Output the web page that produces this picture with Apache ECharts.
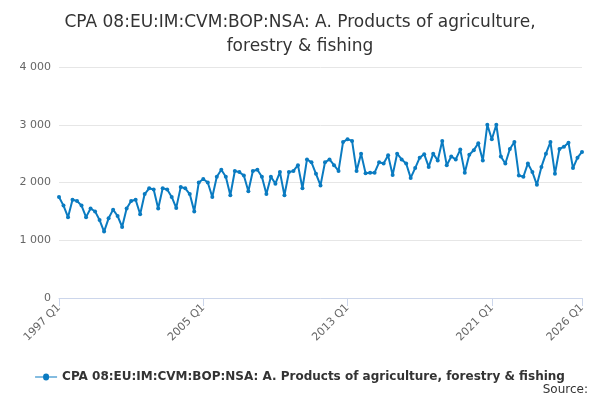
<!doctype html>
<html lang="en">
<head>
	<meta charset="UTF-8">
	<title>CPA 08 chart</title>
	<script src="https://cdn.jsdelivr.net/npm/echarts@6/dist/echarts.min.js"></script>
	<style>
		html, body { margin: 0; padding: 0; width: 100%; height: 100%; }
		#main { width: 600px; height: 400px; }
	</style>
</head>
<body>
	<div id="main"></div>
	<script type="text/javascript">
		var seriesName = 'CPA 08:EU:IM:CVM:BOP:NSA: A. Products of agriculture, forestry & fishing';
		var values = [
			1750, 1600, 1400, 1700, 1680, 1600, 1400, 1550, 1500, 1350, 1150, 1380,
			1530, 1420, 1230, 1550, 1680, 1700, 1450, 1800, 1900, 1880, 1550, 1900,
			1880, 1750, 1560, 1920, 1900, 1800, 1500, 2000, 2060, 2000, 1750, 2100,
			2220, 2100, 1780, 2200, 2180, 2120, 1850, 2200, 2220, 2100, 1800, 2100,
			1980, 2180, 1780, 2180, 2200, 2300, 1900, 2400, 2350, 2150, 1950, 2350,
			2400, 2300, 2200, 2700, 2750, 2720, 2200, 2500, 2160, 2170, 2170, 2350,
			2330, 2470, 2130, 2500, 2400, 2330, 2080, 2250, 2430, 2490, 2270, 2500,
			2380, 2720, 2300, 2450, 2400, 2570, 2170, 2480, 2560, 2680, 2380, 3000,
			2750, 3000, 2450, 2330, 2580, 2700, 2120, 2100, 2330, 2180, 1960, 2270,
			2500, 2700, 2150, 2580, 2620, 2690, 2250, 2430, 2530
		];
		var categories = [];
		for (var i = 0; i < values.length; i++) {
			categories.push((1997 + Math.floor(i / 4)) + ' Q' + (i % 4 + 1));
		}
		var last = values.length - 1;
		function showTick(idx) { return idx % 32 === 0 || idx === last; }

		var myChart = echarts.init(document.getElementById('main'));
		var option = {
			animation: false,
			title: {
				text: 'CPA 08:EU:IM:CVM:BOP:NSA: A. Products of agriculture,\nforestry & fishing',
				left: 'center',
				top: 6,
				textStyle: { fontFamily: 'DejaVu Sans', fontSize: 17, fontWeight: 'normal', color: '#333', lineHeight: 24 }
			},
			legend: {
				bottom: 12,
				left: 'center',
				itemWidth: 22,
				itemHeight: 8,
				textStyle: { fontFamily: 'DejaVu Sans', fontSize: 12, fontWeight: 'bold', color: '#333' },
				data: [{ name: seriesName, icon: 'path://M0,4 L8,4 A3,3 0 1 1 14,4 L22,4 L22,5 L14,5 A3,3 0 1 1 8,5 L0,5 Z' }]
			},
			graphic: [{
				type: 'text', right: 12, bottom: 4,
				style: { text: 'Source:', fontFamily: 'DejaVu Sans', fontSize: 12, fill: '#333' }
			}],
			grid: { left: 59, right: 18, top: 67, bottom: 102 },
			xAxis: {
				type: 'category',
				data: categories,
				boundaryGap: false,
				axisLine: { lineStyle: { color: '#ccd6eb' } },
				axisTick: { interval: showTick, length: 8, lineStyle: { color: '#ccd6eb' } },
				axisLabel: {
					interval: showTick, rotate: 45, color: '#666',
					fontFamily: 'DejaVu Sans', fontSize: 11
				}
			},
			yAxis: {
				type: 'value',
				min: 0, max: 4000, interval: 1000,
				axisLabel: {
					color: '#666', fontFamily: 'DejaVu Sans', fontSize: 11,
					formatter: function (v) { return String(v).replace(/\B(?=(\d{3})+(?!\d))/g, ' '); }
				},
				splitLine: { lineStyle: { color: '#e6e6e6' } }
			},
			series: [{
				name: seriesName,
				type: 'line',
				data: values,
				color: '#0a7bc1',
				lineStyle: { width: 2 },
				symbol: 'circle',
				symbolSize: 4,
				showAllSymbol: true
			}]
		};
		myChart.setOption(option);
	</script>
</body>
</html>
